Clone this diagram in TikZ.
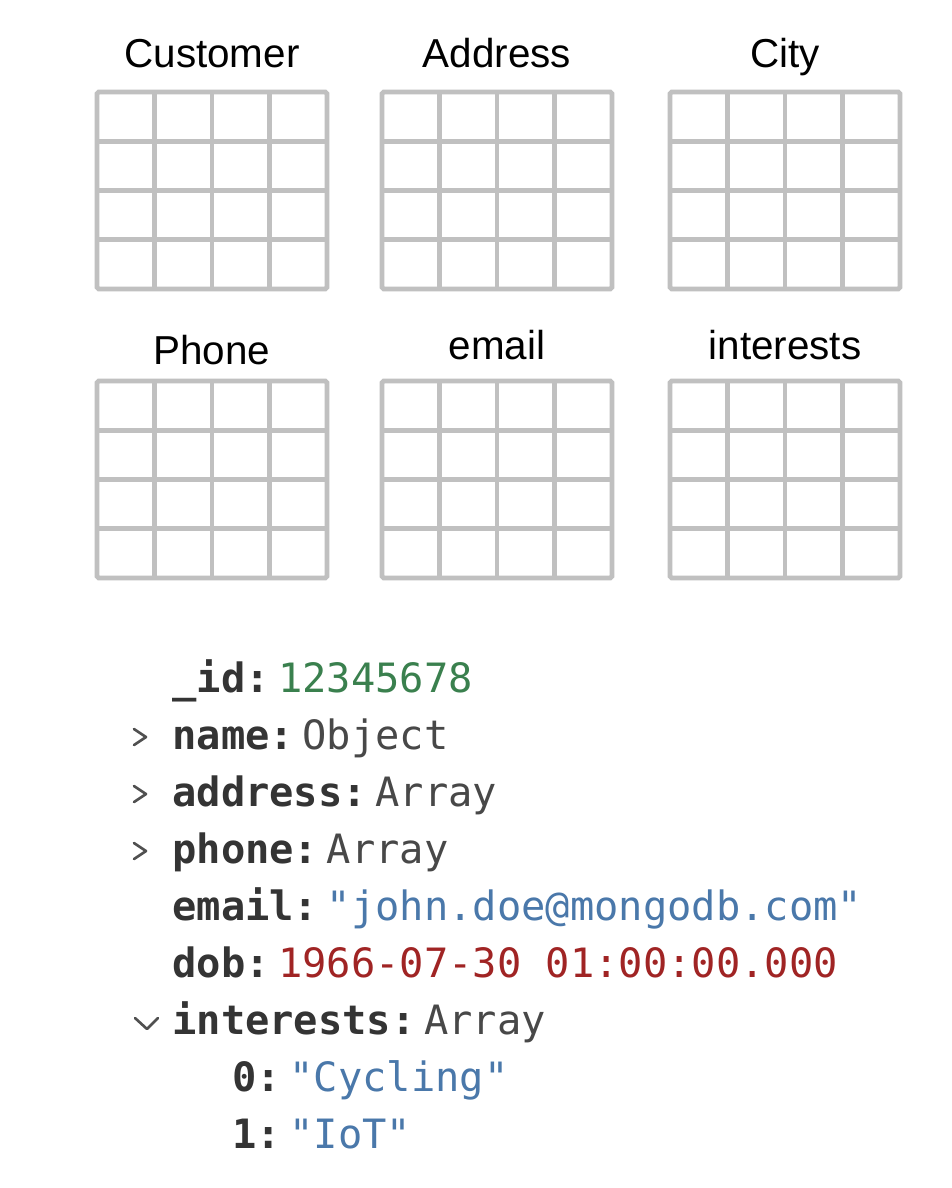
\documentclass[tikz,border=0pt]{standalone}
\usepackage{fontspec}
\usepackage{tikz}
\usetikzlibrary{positioning}

\newfontfamily\labelfont{Liberation Sans}
\newfontfamily\codefont{DejaVu Sans Mono}

\definecolor{gridgray}{RGB}{192,192,192}
\definecolor{keygray}{RGB}{52,52,52}
\definecolor{typegray}{RGB}{72,72,72}
\definecolor{chevgray}{RGB}{80,80,80}
\definecolor{idgreen}{RGB}{58,128,78}
\definecolor{strblue}{RGB}{74,120,170}
\definecolor{datered}{RGB}{160,36,36}

\begin{document}
\begin{tikzpicture}[
        x=0.02cm, y=-0.02cm,
        title/.style={font=\labelfont\fontsize{23}{27}\selectfont, anchor=base, inner sep=0pt},
        tbl/.style={draw=gridgray, line width=2.8pt},
        key/.style={font=\codefont\bfseries\fontsize{23}{28}\selectfont, text=keygray, anchor=base west, inner sep=0pt},
        val/.style={font=\codefont\fontsize{23}{28}\selectfont, anchor=base west, inner sep=0pt, xshift=4.5pt},
        chevron/.style={draw=chevgray, line width=1.5pt, line cap=round, line join=round}
    ]
    \useasboundingbox[fill=white] (0,0) rectangle (952,1188);

    % Tabellen
    \foreach \name/\txt/\tx/\ty/\ly in {customer/Customer/97/92/67, address/Address/382/92/67, city/City/670/92/67,
        phone/Phone/97/381/364, email/email/382/381/359, interests/interests/670/381/359} {
        \node[title] (\name) at (\tx+115,\ly) {\txt};
        \draw[tbl, rounded corners=1pt] (\tx,\ty) rectangle ++(230,197);
        \foreach \i in {1,2,3} {
            \draw[tbl] (\tx+\i*57.5,\ty) -- ++(0,197);
            \draw[tbl] (\tx,\ty+\i*49.25) -- ++(230,0);
        }
    }

    % Dokument
    \node[key] (kid) at (172,692) {\_id:};
    \node[val, text=idgreen] (vid) at (kid.base east) {12345678};

    \node[key] (kname) at (172,749) {name:};
    \node[val, text=typegray] (vname) at (kname.base east) {Object};

    \node[key] (kaddress) at (172,806) {address:};
    \node[val, text=typegray] (vaddress) at (kaddress.base east) {Array};

    \node[key] (kphone) at (172,863) {phone:};
    \node[val, text=typegray] (vphone) at (kphone.base east) {Array};

    \node[key] (kemail) at (172,920) {email:};
    \node[val, text=strblue] (vemail) at (kemail.base east) {"john.doe@mongodb.com"};

    \node[key] (kdob) at (172,977) {dob:};
    \node[val, text=datered] (vdob) at (kdob.base east) {1966-07-30 01:00:00.000};

    \node[key] (kinterests) at (172,1034) {interests:};
    \node[val, text=typegray] (vinterests) at (kinterests.base east) {Array};

    \node[key] (kzero) at (232,1091) {0:};
    \node[val, text=strblue] (vzero) at (kzero.base east) {"Cycling"};

    \node[key] (kone) at (232,1148) {1:};
    \node[val, text=strblue] (vone) at (kone.base east) {"IoT"};

    % Pfeile
    \foreach \bl in {749,806,863}
        \draw[chevron] (134,\bl-20) -- (146,\bl-12) -- (134,\bl-4);
    \draw[chevron] (135,1018) -- (147,1029) -- (158,1018);

\end{tikzpicture}
\end{document}
